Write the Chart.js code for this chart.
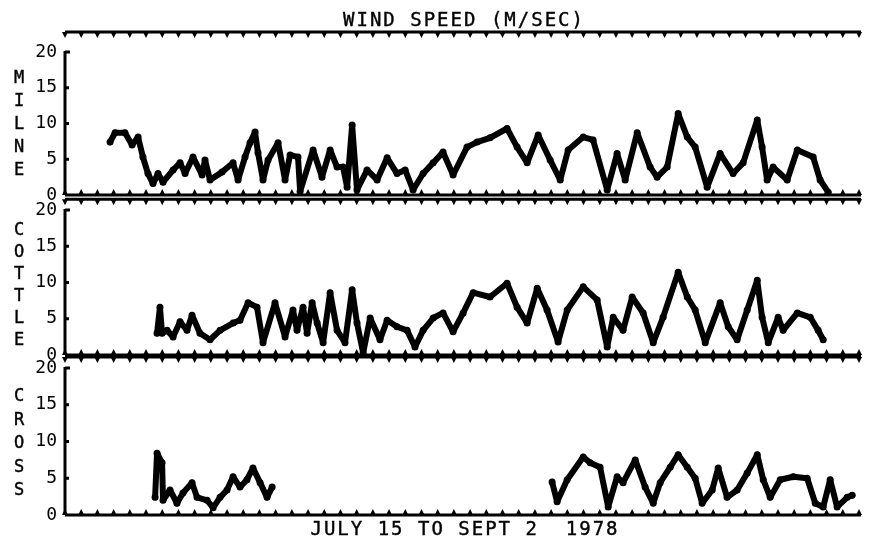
<!DOCTYPE html>
<html>
<head>
<meta charset="utf-8">
<title>Wind speed</title>
<script src="https://cdn.jsdelivr.net/npm/chart.js@4.4.0/dist/chart.umd.min.js"></script>
<style>
  body { margin: 0; background: #fff; }
  #wrap { position: relative; width: 873px; height: 544px; overflow: hidden; background: #fff; }
  canvas { position: absolute; left: 0; top: 0; }
  .txt { position: absolute; font-family: "DejaVu Sans Mono", monospace; color: #000; white-space: pre; -webkit-text-stroke: 0.4px #000; }
  .vert { left: 10px; width: 18px; text-align: center; font-size: 17px; }
</style>
</head>
<body>
<div id="wrap">
  <canvas id="milne" width="873" height="544"></canvas>
  <canvas id="cottle" width="873" height="544"></canvas>
  <canvas id="cross" width="873" height="544"></canvas>
  <div class="txt" style="left:0;width:928px;top:8px;text-align:center;font-size:19px;letter-spacing:2px;">WIND SPEED (M/SEC)</div>
  <div class="txt" style="left:0;width:930px;top:517px;text-align:center;font-size:19px;letter-spacing:2px;">JULY 15 TO SEPT 2  1978</div>
  <div class="txt vert" style="top:66px;line-height:23px;">M<br>I<br>L<br>N<br>E</div>
  <div class="txt vert" style="top:218px;line-height:22px;">C<br>O<br>T<br>T<br>L<br>E</div>
  <div class="txt vert" style="top:384px;line-height:23.5px;">C<br>R<br>O<br>S<br>S</div>
</div>
<script>
// Jours depuis le 15 juillet (0 -> 49)
const dayTicks = [];
for (let d = 0; d <= 49; d++) dayTicks.push(d);
const yTicks = [0, 5, 10, 15, 20];

// MILNE
const milneDays = [2.78, 3.09, 3.70, 4.14, 4.51, 4.81, 5.12, 5.43, 5.74, 6.05, 6.67, 7.10, 7.41, 7.90, 8.46, 8.64, 8.95,
  9.69, 10.37, 10.68, 11.11, 11.42, 11.73, 11.91, 12.22, 12.53, 13.15, 13.58, 13.89, 14.38, 14.51, 15.31, 15.86, 16.36,
  16.79, 17.16, 17.41, 17.72, 18.02, 18.64, 19.26, 19.88, 20.49, 20.99, 21.48, 22.10, 22.72, 23.33, 23.95, 24.81, 25.43,
  26.23, 27.28, 27.90, 28.52, 29.20, 29.94, 30.56, 31.05, 31.98, 32.59, 33.46, 34.07, 34.57, 35.31, 36.11, 36.54, 37.16,
  37.84, 38.40, 38.89, 39.63, 40.43, 41.23, 41.85, 42.72, 43.02, 43.33, 43.70, 44.57, 45.19, 46.17, 46.60, 47.10];
const milneSpeed = [7.4, 8.7, 8.7, 7.0, 8.1, 5.3, 3.0, 1.6, 3.0, 1.8, 3.5, 4.5, 3.0, 5.3, 2.8, 4.9, 2.1,
  3.2, 4.5, 2.1, 5.3, 7.3, 8.8, 5.9, 2.1, 4.9, 7.3, 2.1, 5.6, 5.3, 0.5, 6.3, 2.5, 6.3,
  3.9, 3.9, 1.1, 9.8, 0.7, 3.5, 2.1, 5.2, 3.0, 3.5, 0.7, 3.0, 4.5, 6.0, 2.8, 6.7, 7.4,
  8.0, 9.3, 6.7, 4.5, 8.4, 4.9, 2.1, 6.3, 8.1, 7.7, 0.7, 5.8, 2.1, 8.7, 3.9, 2.5, 3.9,
  11.4, 8.1, 6.7, 1.1, 5.8, 3.0, 4.5, 10.5, 6.7, 2.1, 3.9, 2.1, 6.3, 5.3, 2.1, 0.4];

// COTTLE
const cottleDays = [5.68, 5.86, 5.99, 6.30, 6.67, 7.10, 7.53, 7.84, 8.33, 8.95, 9.57, 10.37, 10.80, 11.30, 11.85, 12.22,
  12.96, 13.58, 14.07, 14.32, 14.69, 14.94, 15.25, 15.56, 15.93, 16.36, 16.79, 17.28, 17.72, 18.02, 18.40, 18.83, 19.44,
  19.88, 20.49, 21.11, 21.60, 22.10, 22.72, 23.33, 23.95, 24.57, 25.19, 26.23, 27.28, 27.90, 28.52, 29.14, 29.75, 30.43,
  30.99, 31.98, 32.84, 33.46, 33.83, 34.44, 35.00, 35.68, 36.30, 36.91, 37.84, 38.40, 38.89, 39.51, 40.43, 40.93, 41.48,
  42.10, 42.72, 43.02, 43.40, 44.01, 44.32, 45.19, 45.99, 46.48, 46.79];
const cottleSpeed = [3.0, 6.6, 3.0, 3.4, 2.5, 4.6, 3.4, 5.5, 3.0, 2.1, 3.4, 4.4, 4.8, 7.2, 6.6, 1.7,
  7.2, 2.5, 6.2, 3.4, 6.6, 3.0, 7.2, 4.4, 1.7, 8.6, 3.4, 1.7, 9.0, 4.4, 0.3, 5.1, 2.1,
  4.8, 3.9, 3.4, 1.1, 3.4, 5.1, 5.8, 3.2, 5.8, 8.6, 8.0, 9.9, 6.6, 4.4, 9.2, 6.2, 1.8,
  6.2, 9.4, 7.6, 1.1, 5.2, 3.4, 8.0, 5.8, 1.7, 5.2, 11.4, 8.0, 6.2, 1.7, 7.2, 3.9, 2.1,
  6.2, 10.3, 5.2, 1.7, 5.2, 3.4, 5.8, 5.2, 3.4, 2.1];

// CROSS (trou de donnees entre le 27 juillet et le 14 aout)
const crossDays = [5.56, 5.68, 5.99, 6.05, 6.48, 6.91, 7.28, 7.84, 8.15, 8.77, 9.14, 9.57, 10.00, 10.37, 10.80, 11.23,
  11.60, 12.04, 12.47, 12.78, 20.0, 30.06, 30.37, 30.99, 31.98, 32.41, 33.02, 33.52, 34.07, 34.44, 35.19, 35.80, 36.30,
  36.73, 37.35, 37.84, 38.40, 38.89, 39.32, 39.94, 40.31, 40.86, 41.48, 42.10, 42.72, 43.09, 43.52, 44.14, 44.94, 45.80,
  46.30, 46.79, 47.22, 47.65, 48.27, 48.58];
const crossSpeed = [2.4, 8.4, 7.1, 2.0, 3.4, 1.6, 3.0, 4.4, 2.4, 2.0, 1.0, 2.4, 3.4, 5.2, 3.8, 4.8,
  6.4, 4.4, 2.4, 3.8, null, 4.5, 1.8, 4.8, 7.9, 7.1, 6.5, 1.1, 5.2, 4.4, 7.5, 3.8, 1.6,
  4.4, 6.5, 8.2, 6.5, 5.0, 1.6, 3.4, 6.4, 2.4, 3.4, 5.7, 8.2, 4.8, 2.4, 4.8, 5.2, 5.0,
  1.6, 1.1, 4.8, 1.1, 2.4, 2.7];

//Cadre facon traceur : axe du bas, bordure du haut, petites dents a chaque jour
const framePlugin = {
    id: 'frame',
    afterDraw(chart, args, opts) {
        const { ctx, scales: { x, y } } = chart;
        const x0 = x.getPixelForValue(0);
        const x1 = x.getPixelForValue(49);
        const yb = y.getPixelForValue(0);
        const yt = y.getPixelForValue(opts.topValue);
        const y20 = y.getPixelForValue(20);
        ctx.save();
        ctx.strokeStyle = '#000';
        ctx.fillStyle = '#000';
        ctx.lineWidth = 3;
        ctx.beginPath();
        ctx.moveTo(x0, yb); ctx.lineTo(x1 + 2, yb);
        ctx.moveTo(x0, yt); ctx.lineTo(x1 + 2, yt);
        ctx.moveTo(x0, yb); ctx.lineTo(x0, y20 - 1);
        ctx.moveTo(x0, y20); ctx.lineTo(x0 + 5, y20);
        ctx.stroke();
        dayTicks.forEach(d => {
            const px = x.getPixelForValue(d);
            ctx.beginPath();
            ctx.moveTo(px - 3, yb); ctx.lineTo(px + 3, yb); ctx.lineTo(px, yb - 6); ctx.closePath();
            ctx.fill();
            ctx.beginPath();
            ctx.moveTo(px - 3, yt); ctx.lineTo(px + 3, yt); ctx.lineTo(px, yt + 6); ctx.closePath();
            ctx.fill();
        });
        yTicks.slice(1, 4).forEach(v => {
            const py = y.getPixelForValue(v);
            ctx.beginPath();
            ctx.moveTo(x0, py); ctx.lineTo(x0 + 4, py);
            ctx.stroke();
        });
        ctx.restore();
    }
};

function makePanel(id, days, speeds, padTop, padBottom, topValue) {
    const pts = days.map((d, i) => ({ x: d, y: speeds[i] }));
    return new Chart(document.getElementById(id), {
        type: 'line',
        data: {
            datasets: [{
                data: pts,
                borderColor: '#000',
                backgroundColor: '#000',
                borderWidth: 6,
                borderJoinStyle: 'round',
                borderCapStyle: 'round',
                pointRadius: 3.5,
                pointBorderWidth: 0,
                tension: 0,
                spanGaps: false
            }]
        },
        options: {
            responsive: false,
            animation: false,
            layout: { padding: { top: padTop, bottom: padBottom, left: 0, right: 14 } },
            plugins: {
                legend: { display: false },
                tooltip: { enabled: false },
                frame: { topValue: topValue }
            },
            scales: {
                x: { type: 'linear', min: 0, max: 49, display: false },
                y: {
                    type: 'linear', min: 0, max: 20,
                    afterBuildTicks: s => { s.ticks = yTicks.map(v => ({ value: v })); },
                    afterFit: s => { s.width = 65; },
                    grid: { display: false },
                    border: { display: false },
                    ticks: {
                        color: '#000',
                        padding: 0,
                        font: { family: 'DejaVu Sans Mono', size: 18 }
                    }
                }
            }
        },
        plugins: [framePlugin]
    });
}

makePanel('milne', milneDays, milneSpeed, 52, 544 - 195, 22.8);
makePanel('cottle', cottleDays, cottleSpeed, 210, 544 - 355, 21.5);
makePanel('cross', crossDays, crossSpeed, 368, 544 - 515, 21.5);
</script>
</body>
</html>
